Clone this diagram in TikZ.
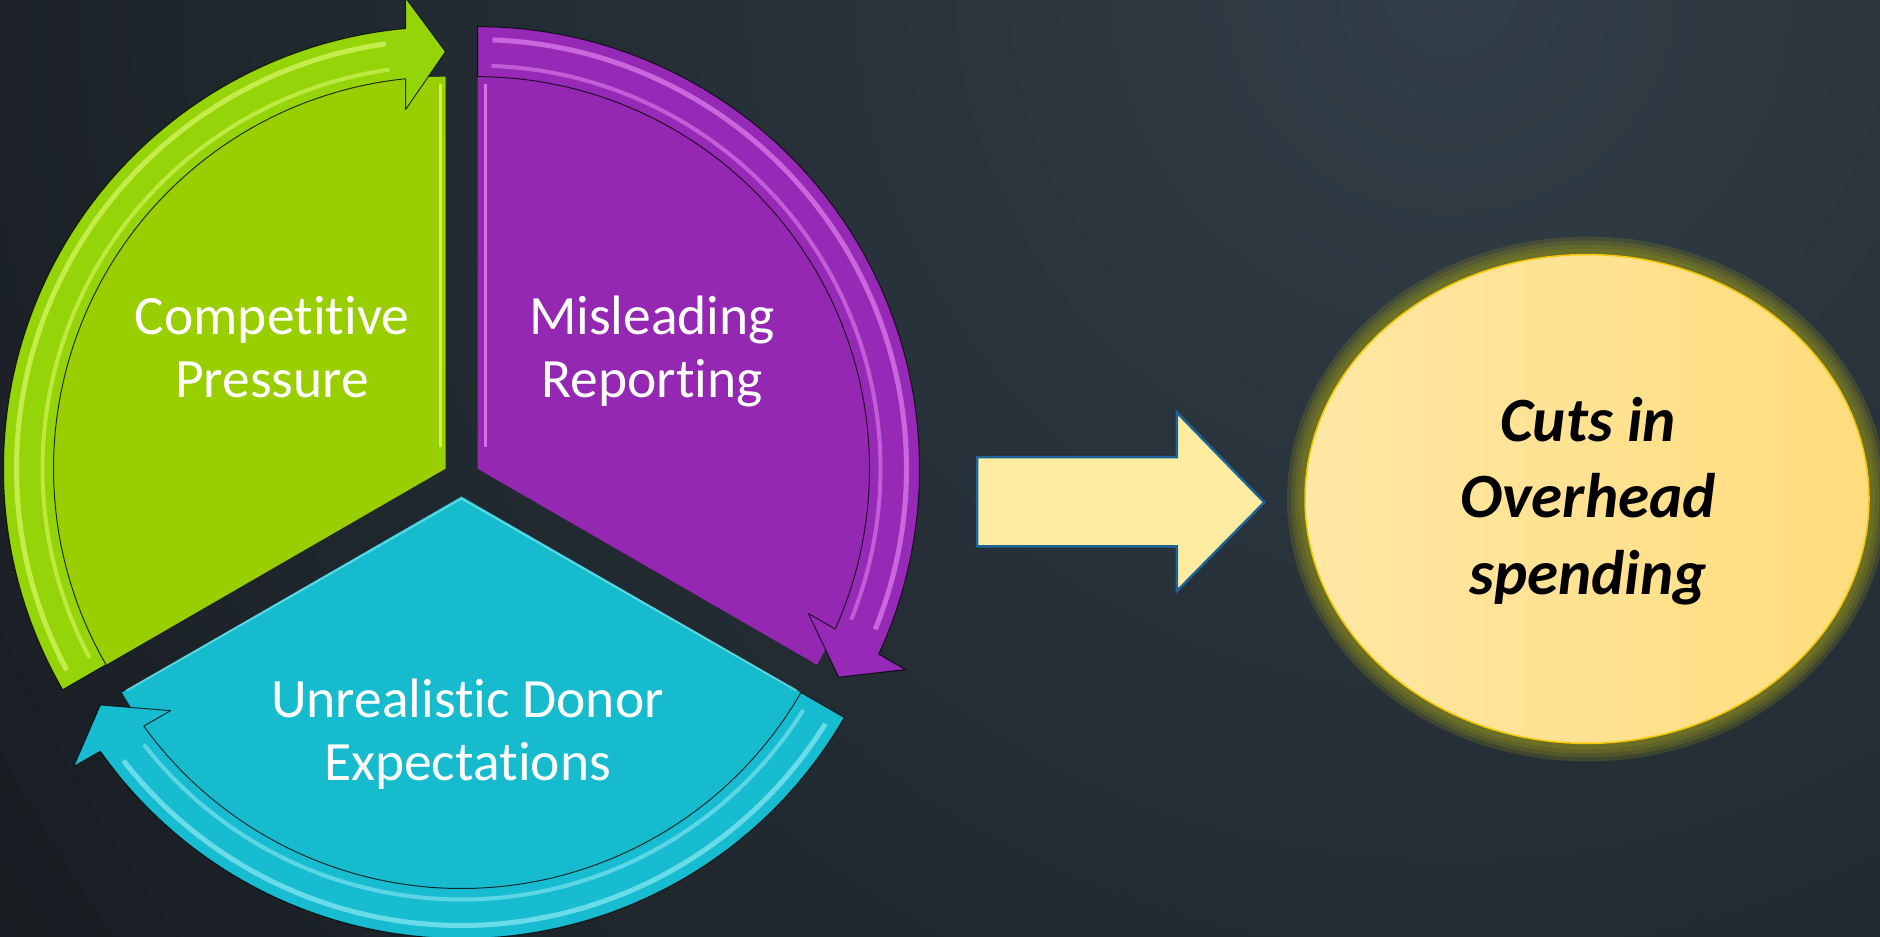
\documentclass[tikz,border=0pt]{standalone}
\usepackage{fontspec}
\setmainfont{Carlito}[Ligatures={NoCommon}]
\definecolor{bgdark}{RGB}{10,12,14}
\definecolor{bglight}{RGB}{50,62,72}
\definecolor{greenpie}{RGB}{153,206,0}
\definecolor{greenring}{RGB}{150,212,10}
\definecolor{greenhl}{RGB}{228,255,120}
\definecolor{purplepie}{RGB}{148,40,178}
\definecolor{purplering}{RGB}{150,42,182}
\definecolor{purplehl}{RGB}{236,145,248}
\definecolor{cyanpie}{RGB}{22,188,205}
\definecolor{cyanring}{RGB}{24,188,208}
\definecolor{cyanhl}{RGB}{160,240,250}
\definecolor{arrowfill}{RGB}{255,236,160}
\definecolor{arrowline}{RGB}{30,100,150}
\definecolor{glowcol}{RGB}{140,140,30}
\definecolor{ellleft}{RGB}{255,231,165}
\definecolor{ellright}{RGB}{255,221,125}
\definecolor{ellline}{RGB}{245,200,0}
\newcommand{\ringarrow}[4]{%
  \begin{scope}[shift={(#1)}, rotate=#2]
    \path[fill=#3, draw=black, draw opacity=0.75, line width=1pt, line join=round]
      (120:442pt) arc[start angle=120, end angle=5.19, radius=442pt]
      -- (471,40) -- (417,0) -- (359,40) -- (389.95,40)
      arc[start angle=5.857, end angle=120, radius=392pt] -- cycle;
    \draw[#4, line width=5pt, opacity=0.6] (118:429pt) arc[start angle=118, end angle=8, radius=429pt];
    \draw[#4, line width=4pt, opacity=0.5] (118:403pt) arc[start angle=118, end angle=8, radius=403pt];
  \end{scope}}
\tikzset{
  label/.style={text=white, inner sep=0pt, anchor=base, font=\fontsize{55.5}{63}\selectfont}
}
\begin{document}
\begin{tikzpicture}[x=1pt,y=1pt]
\useasboundingbox (0,0) rectangle (1880,937);
% background
\fill[bgdark] (0,0) rectangle (1880,937);
\begin{scope}
  \clip (0,0) rectangle (1880,937);
  \shade[inner color=bglight, outer color=bgdark] (1450,950) circle (2600pt);
\end{scope}
% centres of the three segments
\coordinate (G) at (445.5,468.3);
\coordinate (P) at (477.5,468.3);
\coordinate (C) at (461.5,440.5);
% pies
\fill[greenpie] (G) -- ++(90:392pt) arc[start angle=90, end angle=210, radius=392pt] -- cycle;
\fill[purplepie] (P) -- ++(-30:392pt) arc[start angle=-30, end angle=90, radius=392pt] -- cycle;
\fill[cyanpie] (C) -- ++(210:392pt) arc[start angle=210, end angle=330, radius=392pt] -- cycle;
% bevel highlights on straight edges
\draw[greenhl, line width=3pt, opacity=0.7] ([shift={(-5,22)}]G) -- ([shift={(-5,385)}]G);
\draw[purplehl, line width=3pt, opacity=0.7] ([shift={(8,22)}]P) -- ([shift={(8,385)}]P);
\draw[cyanhl, line width=2pt, opacity=0.5] ([shift={(0,-2)}]C) -- ([shift={(-335,-194)}]C);
\draw[cyanhl, line width=2pt, opacity=0.5] ([shift={(0,-2)}]C) -- ([shift={(335,-194)}]C);
% ring arrows
\ringarrow{G}{90}{greenring}{greenhl}
\ringarrow{P}{-30}{purplering}{purplehl}
\ringarrow{C}{210}{cyanring}{cyanhl}
% labels
\node[label] (t1) at (272,539.7) {\begin{tabular}[b]{@{}c@{}}Competitive\\Pressure\end{tabular}};
\node[label] (t2) at (652,539.7) {\begin{tabular}[b]{@{}c@{}}Misleading\\Reporting\end{tabular}};
\node[label] (t3) at (467.5,156.5) {\begin{tabular}[b]{@{}c@{}}Unrealistic Donor\\Expectations\end{tabular}};
% block arrow
\path[fill=arrowfill, draw=arrowline, line width=2.5pt, line join=miter]
  (977.2,479.8) -- (1176.8,479.8) -- (1176.8,524.6) -- (1264.3,434.7)
  -- (1176.8,345.9) -- (1176.8,390.7) -- (977.2,390.7) -- cycle;
% ellipse with glow
\coordinate (E) at (1587,438);
\foreach \g in {18,14,10,6}
  \fill[glowcol, opacity=0.25] (E) ellipse[x radius=282pt+\g pt, y radius=244.4pt+\g pt];
\shade[left color=ellleft, right color=ellright] (E) ellipse[x radius=282pt, y radius=244.4pt];
\draw[ellline, line width=1.5pt] (E) ellipse[x radius=282pt, y radius=244.4pt];
\node[inner sep=0pt, anchor=base, text=black, font=\fontsize{63}{76.5}\selectfont\bfseries\itshape] (t4) at (1588,342.8)
  {\begin{tabular}[b]{@{}c@{}}Cuts in\\Overhead\\spending\end{tabular}};
\end{tikzpicture}
\end{document}
